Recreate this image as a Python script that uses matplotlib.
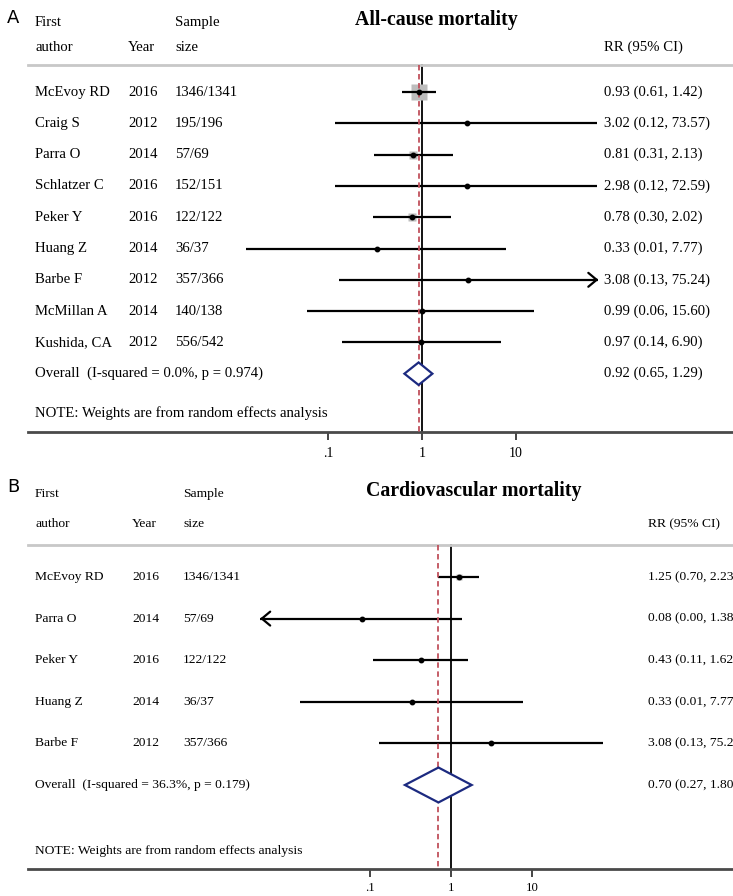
import numpy as np
import matplotlib
matplotlib.use("Agg")
import matplotlib.pyplot as plt
import matplotlib.transforms as mtransforms

# ---------------- data ----------------
a_authors = ["McEvoy RD", "Craig S", "Parra O", "Schlatzer C", "Peker Y",
             "Huang Z", "Barbe F", "McMillan A", "Kushida, CA"]
a_years = ["2016", "2012", "2014", "2016", "2016", "2014", "2012", "2014", "2012"]
a_sizes = ["1346/1341", "195/196", "57/69", "152/151", "122/122",
           "36/37", "357/366", "140/138", "556/542"]
a_rr = [0.93, 3.02, 0.81, 2.98, 0.78, 0.33, 3.08, 0.99, 0.97]
a_lo = [0.61, 0.12, 0.31, 0.12, 0.30, 0.0135, 0.13, 0.06, 0.14]
a_hi = [1.42, 73.57, 2.13, 72.59, 2.02, 7.77, 75.24, 15.60, 6.90]
a_labels = ["0.93 (0.61, 1.42)", "3.02 (0.12, 73.57)", "0.81 (0.31, 2.13)",
            "2.98 (0.12, 72.59)", "0.78 (0.30, 2.02)", "0.33 (0.01, 7.77)",
            "3.08 (0.13, 75.24)", "0.99 (0.06, 15.60)", "0.97 (0.14, 6.90)"]
a_weight = [62, 1, 12, 1, 12, 1.5, 1, 2, 3]
a_arrow_hi = [False, False, False, False, False, False, True, False, False]
a_overall = (0.92, 0.65, 1.29)
a_overall_label = "0.92 (0.65, 1.29)"
a_overall_text = "Overall  (I-squared = 0.0%, p = 0.974)"

b_authors = ["McEvoy RD", "Parra O", "Peker Y", "Huang Z", "Barbe F"]
b_years = ["2016", "2014", "2016", "2014", "2012"]
b_sizes = ["1346/1341", "57/69", "122/122", "36/37", "357/366"]
b_rr = [1.25, 0.08, 0.43, 0.33, 3.08]
b_lo = [0.70, 0.0044, 0.11, 0.0135, 0.13]
b_hi = [2.23, 1.38, 1.62, 7.77, 75.24]
b_labels = ["1.25 (0.70, 2.23)", "0.08 (0.00, 1.38)", "0.43 (0.11, 1.62)",
            "0.33 (0.01, 7.77)", "3.08 (0.13, 75.24)"]
b_weight = [30, 10, 20, 6, 8]
b_arrow_lo = [False, True, False, False, False]
b_overall = (0.70, 0.27, 1.80)
b_overall_label = "0.70 (0.27, 1.80)"
b_overall_text = "Overall  (I-squared = 36.3%, p = 0.179)"

ticks = [0.1, 1, 10]
tick_labels = [".1", "1", "10"]

# ---------------- figure ----------------
W, H = 733, 896
fig = plt.figure(figsize=(W / 100, H / 100), dpi=100)
SERIF = ["Liberation Serif", "DejaVu Serif"]
RED = "#c0505c"
NAVY = "#1c2a80"


def fx(px):
    return px / W


def fy(py):
    return 1 - py / H


def make_axes(top_px, bottom_px, left_px, x_one_px, decade_px, row0_px, row_step,
              tick_fs, pad):
    ax = fig.add_axes([fx(left_px), fy(bottom_px), fx(W) - fx(left_px),
                       (bottom_px - top_px) / H])
    ax.set_xscale("log")
    ax.set_xlim(10 ** ((left_px - x_one_px) / decade_px),
                10 ** ((W - x_one_px) / decade_px))
    ax.set_ylim((bottom_px - row0_px) / row_step, (top_px - row0_px) / row_step)
    for s in ["top", "right", "left"]:
        ax.spines[s].set_visible(False)
    ax.spines["bottom"].set_color("#4a4a4a")
    ax.spines["bottom"].set_linewidth(2.0)
    ax.yaxis.set_visible(False)
    ax.set_xticks(ticks)
    ax.set_xticklabels(tick_labels, family=SERIF, fontsize=tick_fs)
    ax.xaxis.set_minor_locator(matplotlib.ticker.NullLocator())
    ax.tick_params(axis="x", direction="out", length=5.5, width=1.4, color="#444444",
                   pad=pad)
    ax.patch.set_visible(False)
    return ax


def draw_panel(ax, letter, letter_py, title, title_px, title_py, cols, head_rows,
               authors, years, sizes, rr, lo, hi, labels, weight, arrow_lo, arrow_hi,
               overall, overall_label, overall_text, note_row, line_row, fs,
               max_sq, diamond_h, lw):
    blend = mtransforms.blended_transform_factory(fig.transFigure, ax.transData)
    fig.text(fx(7), fy(letter_py), letter, fontsize=13, family="DejaVu Sans",
             va="center", ha="left")
    fig.text(fx(title_px), fy(title_py), title, fontsize=14.3, family=SERIF,
             weight="bold", ha="center", va="center")
    c_auth, c_year, c_size, c_rr = cols
    r1, r2 = head_rows
    kw = dict(transform=blend, family=SERIF, fontsize=fs, va="center", clip_on=False)
    ax.text(fx(c_auth), r1, "First", **kw)
    ax.text(fx(c_size), r1, "Sample", **kw)
    ax.text(fx(c_auth), r2, "author", **kw)
    ax.text(fx(c_year), r2, "Year", **kw)
    ax.text(fx(c_size), r2, "size", **kw)
    ax.text(fx(c_rr), r2, "RR (95% CI)", **kw)
    # header separator
    ax.plot([0, 1], [line_row, line_row], transform=mtransforms.blended_transform_factory(
        ax.transAxes, ax.transData), color="#c8c8c8", lw=2.0, clip_on=False)

    n = len(authors)
    rows = np.arange(n)
    bottom = ax.get_ylim()[0]
    ax.plot([1, 1], [line_row, bottom], color="black", lw=1.3, zorder=1)
    ax.plot([overall[0]] * 2, [line_row, bottom], color=RED, lw=1.3,
            ls=(0, (3, 2)), zorder=4)

    wmax = max(weight)
    aprops = dict(arrowstyle="->,head_length=0.6,head_width=0.5",
                  lw=lw, color="black", shrinkA=0, shrinkB=0)
    for i in rows:
        side = max_sq * np.sqrt(weight[i] / wmax)
        ax.plot([rr[i]], [i], marker="s", ms=side * 0.72, color="#bdbdbd",
                mec="none", zorder=2)
        ax.plot([lo[i], hi[i]], [i, i], color="black", lw=lw, zorder=3,
                solid_capstyle="butt")
        if arrow_hi[i]:
            ax.annotate("", xy=(hi[i], i), xytext=(hi[i] / 1.12, i), arrowprops=aprops)
        if arrow_lo[i]:
            ax.annotate("", xy=(lo[i], i), xytext=(lo[i] * 1.12, i), arrowprops=aprops)
        ax.plot([rr[i]], [i], marker="o", ms=3.2, color="black", zorder=5)
        ax.text(fx(c_auth), i, authors[i], **kw)
        ax.text(fx(c_year), i, years[i], **kw)
        ax.text(fx(c_size), i, sizes[i], **kw)
        ax.text(fx(c_rr), i, labels[i], **kw)

    oi = n
    est, olo, ohi = overall
    ax.fill([olo, est, ohi, est, olo], [oi, oi - diamond_h, oi, oi + diamond_h, oi],
            facecolor="white", edgecolor=NAVY, lw=1.6, zorder=6)
    ax.text(fx(c_auth), oi, overall_text, **kw)
    ax.text(fx(c_rr), oi, overall_label, **kw)
    ax.text(fx(c_auth), note_row, "NOTE: Weights are from random effects analysis", **kw)


# Panel A
axA = make_axes(top_px=0, bottom_px=432, left_px=28, x_one_px=422, decade_px=94,
                row0_px=92, row_step=31.3, tick_fs=10, pad=5)
draw_panel(axA, "A", 18, "All-cause mortality", 436, 20, (35, 128, 175, 604),
           ((22 - 92) / 31.3, (47 - 92) / 31.3),
           a_authors, a_years, a_sizes, a_rr, a_lo, a_hi, a_labels, a_weight,
           [False] * len(a_rr), a_arrow_hi, a_overall, a_overall_label,
           a_overall_text, (413 - 92) / 31.3, (65 - 92) / 31.3, 10.6,
           16, 0.36, 1.6)

# Panel B
axB = make_axes(top_px=470, bottom_px=869, left_px=28, x_one_px=451, decade_px=81,
                row0_px=577, row_step=41.6, tick_fs=9.2, pad=4)
draw_panel(axB, "B", 487, "Cardiovascular mortality", 474, 491, (35, 132, 183, 648),
           ((494 - 577) / 41.6, (524 - 577) / 41.6),
           b_authors, b_years, b_sizes, b_rr, b_lo, b_hi, b_labels, b_weight,
           b_arrow_lo, [False] * len(b_rr), b_overall, b_overall_label,
           b_overall_text, (851 - 577) / 41.6, (545 - 577) / 41.6, 9.7,
           6, 0.42, 1.6)

fig.savefig("out.png", dpi=100)
